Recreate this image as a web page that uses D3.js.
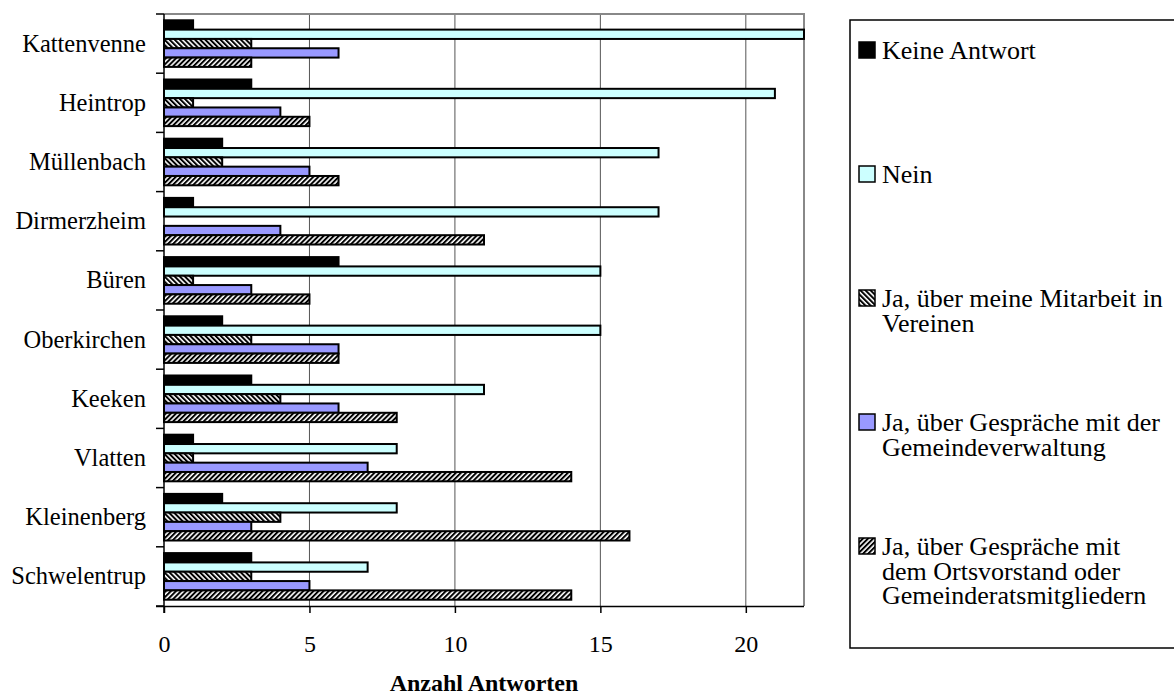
<!DOCTYPE html>
<html>
<head>
<meta charset="utf-8">
<script src="https://cdn.jsdelivr.net/npm/d3@7"></script>
<style>
  html, body { margin: 0; padding: 0; background: #fff; }
  svg { display: block; }
  text { font-family: "Liberation Serif", "Times New Roman", serif; fill: #000; }
</style>
</head>
<body>
<svg id="chart" width="1174" height="695"></svg>
<script>
// Orte (top to bottom)
const categories = ["Kattenvenne", "Heintrop", "Müllenbach", "Dirmerzheim", "Büren",
                    "Oberkirchen", "Keeken", "Vlatten", "Kleinenberg", "Schwelentrup"];

// Antwortkategorien
const seriesNames = [
  "Keine Antwort",
  "Nein",
  "Ja, über meine Mitarbeit in Vereinen",
  "Ja, über Gespräche mit der Gemeindeverwaltung",
  "Ja, über Gespräche mit dem Ortsvorstand oder Gemeinderatsmitgliedern"
];

// Legend labels, broken into lines
const legendLines = [
  ["Keine Antwort"],
  ["Nein"],
  ["Ja, über meine Mitarbeit in", "Vereinen"],
  ["Ja, über Gespräche mit der", "Gemeindeverwaltung"],
  ["Ja, über Gespräche mit", "dem Ortsvorstand oder", "Gemeinderatsmitgliedern"]
];

// Anzahl Antworten per Ort, one array per series
const keineAntwort   = [1, 3, 2, 1, 6, 2, 3, 1, 2, 3];
const nein           = [22, 21, 17, 17, 15, 15, 11, 8, 8, 7];
const jaVereine      = [3, 1, 2, 0, 1, 3, 4, 1, 4, 3];
const jaVerwaltung   = [6, 4, 5, 4, 3, 6, 6, 7, 3, 5];
const jaOrtsvorstand = [3, 5, 6, 11, 5, 6, 8, 14, 16, 14];

const xTicks = [0, 5, 10, 15, 20];
const xMax = 22;
const axisTitle = "Anzahl Antworten";

const seriesValues = [keineAntwort, nein, jaVereine, jaVerwaltung, jaOrtsvorstand];
const fills = ["#000000", "#ccffff", "url(#hatchBack)", "#9999ff", "url(#hatchFwd)"];

const svg = d3.select("#chart");

// hatch patterns
const defs = svg.append("defs");
function hatch(id, angle) {
  const p = defs.append("pattern")
    .attr("id", id)
    .attr("patternUnits", "userSpaceOnUse")
    .attr("width", 3.6).attr("height", 3.6)
    .attr("patternTransform", `rotate(${angle})`);
  p.append("rect").attr("width", 3.6).attr("height", 3.6).attr("fill", "#fff");
  p.append("rect").attr("width", 2.0).attr("height", 3.6).attr("fill", "#000");
}
hatch("hatchFwd", 45);
hatch("hatchBack", -45);

const plotLeft = 164, plotRight = 804, plotTop = 14, plotBottom = 606;

const x = d3.scaleLinear().domain([0, xMax]).range([plotLeft, plotRight]);
const y0 = d3.scaleBand().domain(categories).range([plotTop, plotBottom]);
const y1 = d3.scaleBand().domain(d3.range(seriesNames.length))
  .range([0, y0.bandwidth()]).paddingOuter(0.675).paddingInner(0);

// vertical gridlines
svg.append("g").selectAll("line")
  .data(xTicks.filter(d => d > 0))
  .join("line")
  .attr("x1", d => x(d)).attr("x2", d => x(d))
  .attr("y1", plotTop).attr("y2", plotBottom)
  .attr("stroke", "#555").attr("stroke-width", 1);

// plot frame (top and right)
svg.append("path")
  .attr("d", `M${plotLeft},${plotTop}H${plotRight}V${plotBottom}`)
  .attr("fill", "none").attr("stroke", "#888").attr("stroke-width", 2);

// bars
const groups = svg.append("g").selectAll("g")
  .data(categories)
  .join("g")
  .attr("transform", d => `translate(0,${y0(d)})`);

groups.selectAll("rect")
  .data((c, ci) => seriesValues.map((vals, si) => ({ si, v: vals[ci] })).filter(d => d.v > 0))
  .join("rect")
  .attr("x", x(0))
  .attr("y", d => y1(d.si))
  .attr("width", d => x(d.v) - x(0))
  .attr("height", y1.bandwidth())
  .attr("fill", d => fills[d.si])
  .attr("stroke", "#000")
  .attr("stroke-width", 2);

// x axis
const xAxis = svg.append("g")
  .attr("transform", `translate(0,${plotBottom})`)
  .call(d3.axisBottom(x).tickValues(xTicks).tickSize(7).tickPadding(22).tickSizeOuter(0));
xAxis.select(".domain").attr("stroke", "#000").attr("stroke-width", 1.5)
  .attr("d", `M${plotLeft - 8},0.5H${plotRight}`);
xAxis.selectAll(".tick line").attr("stroke", "#000").attr("stroke-width", 1.5);
xAxis.selectAll(".tick text")
  .attr("font-size", 24).attr("font-family", "Liberation Serif, Times New Roman, serif");

// y axis with ticks on category boundaries
const yAxisG = svg.append("g");
yAxisG.append("line")
  .attr("x1", plotLeft).attr("x2", plotLeft).attr("y1", plotTop).attr("y2", plotBottom + 7)
  .attr("stroke", "#000").attr("stroke-width", 1.5);
const boundaries = categories.map(c => y0(c)).concat([plotBottom]);
yAxisG.selectAll("line.b")
  .data(boundaries)
  .join("line")
  .attr("class", "b")
  .attr("x1", plotLeft - 8).attr("x2", plotLeft)
  .attr("y1", d => d).attr("y2", d => d)
  .attr("stroke", "#000").attr("stroke-width", 1.5);
yAxisG.selectAll("text")
  .data(categories)
  .join("text")
  .attr("x", 146)
  .attr("y", d => y0(d) + y0.bandwidth() / 2)
  .attr("dy", "0.33em")
  .attr("text-anchor", "end")
  .attr("font-size", 24.5)
  .text(d => d);

// axis title
svg.append("text")
  .attr("x", 484).attr("y", 691)
  .attr("text-anchor", "middle")
  .attr("font-size", 24).attr("font-weight", "bold")
  .text(axisTitle);

// legend: equal-height slots, one per series
const legend = svg.append("g");
legend.append("rect")
  .attr("x", 850).attr("y", 20).attr("width", 330).attr("height", 628)
  .attr("fill", "#fff").attr("stroke", "#000").attr("stroke-width", 1.5);

const firstBaseline = 59, slotHeight = 124, lineGap = 24.5;
const items = legend.selectAll("g.item")
  .data(legendLines)
  .join("g")
  .attr("class", "item")
  .attr("transform", (d, i) => `translate(0,${firstBaseline + i * slotHeight})`);

items.append("rect")
  .attr("x", 859).attr("y", -17).attr("width", 16).attr("height", 16)
  .attr("fill", (d, i) => fills[i])
  .attr("stroke", "#000").attr("stroke-width", 1.5);

items.append("text")
  .attr("font-size", 26)
  .selectAll("tspan")
  .data(d => d)
  .join("tspan")
  .attr("x", 882)
  .attr("y", (d, j) => j * lineGap)
  .text(d => d);
</script>
</body>
</html>
